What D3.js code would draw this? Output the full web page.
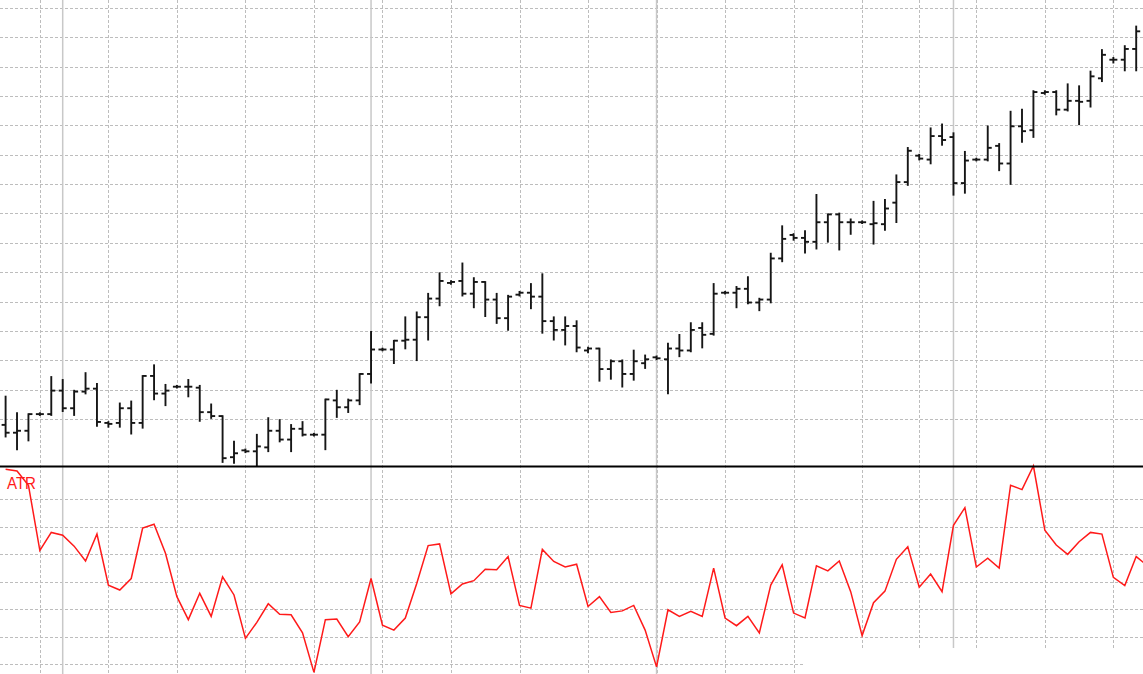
<!DOCTYPE html>
<html lang="en">
<head>
<meta charset="utf-8">
<style>
body { margin: 0; background: #fff; }
svg { display: block; }

.grid line {
  stroke: #bdbdbd;
  stroke-width: 1;
  stroke-dasharray: 3,2;
}

.sep line {
  stroke: #c8c8c8;
  stroke-width: 1.5;
}

.bars line {
  stroke: #161616;
  stroke-width: 1.9;
}

.atr {
  fill: none;
  stroke: #ff1a1a;
  stroke-width: 1.5;
}
</style>
</head>
<body>
<svg width="1143" height="674"></svg>

<script src="https://d3js.org/d3.v7.min.js"></script>
<script>

// OHLC, one value per bar (bar 0 = leftmost)
var opens = [
  1.2894, 1.2886, 1.2888, 1.2905, 1.2905, 1.2929, 1.2911, 1.2928, 1.2931, 1.2896,
  1.2896, 1.2911, 1.2896, 1.2944, 1.2926, 1.2933, 1.2933, 1.2932, 1.2907, 1.2903,
  1.2861, 1.2868, 1.2867, 1.2871, 1.2888, 1.2879, 1.2890, 1.2884, 1.2884, 1.2919,
  1.2912, 1.2919, 1.2946, 1.2971, 1.2971, 1.2980, 1.2981, 1.3004, 1.3023, 1.3039,
  1.3041, 1.3028, 1.3040, 1.3022, 1.3003, 1.3027, 1.3029, 1.3025, 1.3000, 1.2991,
  1.2995, 1.2970, 1.2972, 1.2951, 1.2959, 1.2946, 1.2957, 1.2963, 1.2961, 1.2972,
  1.2970, 1.2993, 1.2987, 1.3029, 1.3029, 1.3033, 1.3019, 1.3022, 1.3064, 1.3088,
  1.3085, 1.3081, 1.3101, 1.3109, 1.3101, 1.3101, 1.3099, 1.3099, 1.3121, 1.3142,
  1.3169, 1.3165, 1.3189, 1.3188, 1.3141, 1.3165, 1.3165, 1.3179, 1.3161, 1.3199,
  1.3195, 1.3233, 1.3234, 1.3216, 1.3225, 1.3225, 1.3248, 1.3267, 1.3267, 1.3278
];
var highs = [
  1.2923, 1.2906, 1.2905, 1.2906, 1.2943, 1.2940, 1.2929, 1.2947, 1.2936, 1.2897,
  1.2916, 1.2918, 1.2944, 1.2955, 1.2935, 1.2934, 1.2940, 1.2934, 1.2915, 1.2903,
  1.2877, 1.2869, 1.2884, 1.2901, 1.2899, 1.2894, 1.2897, 1.2885, 1.2920, 1.2929,
  1.2920, 1.2946, 1.2989, 1.2972, 1.2980, 1.3004, 1.3009, 1.3028, 1.3049, 1.3041,
  1.3059, 1.3044, 1.3040, 1.3028, 1.3026, 1.3030, 1.3038, 1.3048, 1.3004, 1.3004,
  1.3000, 1.2973, 1.2972, 1.2960, 1.2960, 1.2970, 1.2965, 1.2964, 1.2977, 1.2986,
  1.2998, 1.2998, 1.3038, 1.3030, 1.3035, 1.3045, 1.3023, 1.3069, 1.3097, 1.3089,
  1.3092, 1.3129, 1.3109, 1.3110, 1.3104, 1.3102, 1.3122, 1.3124, 1.3149, 1.3177,
  1.3170, 1.3197, 1.3201, 1.3192, 1.3173, 1.3166, 1.3199, 1.3181, 1.3214, 1.3216,
  1.3235, 1.3235, 1.3235, 1.3242, 1.3240, 1.3255, 1.3277, 1.3269, 1.3281, 1.3301
];
var lows = [
  1.2882, 1.2869, 1.2878, 1.2904, 1.2904, 1.2908, 1.2904, 1.2926, 1.2893, 1.2892,
  1.2892, 1.2885, 1.2891, 1.2920, 1.2914, 1.2932, 1.2923, 1.2898, 1.2901, 1.2856,
  1.2855, 1.2866, 1.2852, 1.2867, 1.2877, 1.2867, 1.2883, 1.2883, 1.2869, 1.2902,
  1.2907, 1.2915, 1.2937, 1.2970, 1.2957, 1.2972, 1.2960, 1.2981, 1.3016, 1.3038,
  1.3026, 1.3014, 1.3005, 1.2998, 1.2991, 1.3026, 1.3013, 1.2988, 1.2981, 1.2976,
  1.2969, 1.2968, 1.2939, 1.2941, 1.2933, 1.2940, 1.2952, 1.2961, 1.2926, 1.2964,
  1.2969, 1.2973, 1.2986, 1.3028, 1.3014, 1.3018, 1.3011, 1.3019, 1.3061, 1.3083,
  1.3070, 1.3074, 1.3081, 1.3073, 1.3089, 1.3100, 1.3079, 1.3093, 1.3101, 1.3139,
  1.3165, 1.3161, 1.3180, 1.3129, 1.3131, 1.3164, 1.3164, 1.3154, 1.3140, 1.3183,
  1.3188, 1.3232, 1.3211, 1.3215, 1.3201, 1.3219, 1.3245, 1.3264, 1.3256, 1.3256
];
var closes = [
  1.2886, 1.2888, 1.2905, 1.2905, 1.2929, 1.2911, 1.2928, 1.2931, 1.2897, 1.2895,
  1.2911, 1.2896, 1.2944, 1.2926, 1.2929, 1.2933, 1.2933, 1.2907, 1.2903, 1.2860,
  1.2865, 1.2867, 1.2872, 1.2888, 1.2879, 1.2890, 1.2884, 1.2884, 1.2920, 1.2912,
  1.2919, 1.2946, 1.2971, 1.2971, 1.2980, 1.2981, 1.3004, 1.3023, 1.3041, 1.3040,
  1.3028, 1.3040, 1.3022, 1.3003, 1.3025, 1.3029, 1.3025, 1.3000, 1.2991, 1.2995,
  1.2973, 1.2972, 1.2951, 1.2959, 1.2946, 1.2959, 1.2961, 1.2962, 1.2972, 1.2970,
  1.2991, 1.2986, 1.3028, 1.3029, 1.3033, 1.3019, 1.3022, 1.3064, 1.3084, 1.3085,
  1.3081, 1.3101, 1.3109, 1.3101, 1.3101, 1.3101, 1.3100, 1.3115, 1.3142, 1.3174,
  1.3166, 1.3189, 1.3185, 1.3141, 1.3164, 1.3165, 1.3177, 1.3161, 1.3199, 1.3194,
  1.3234, 1.3234, 1.3216, 1.3225, 1.3224, 1.3250, 1.3272, 1.3267, 1.3278, 1.3296
];

// ATR values; the last point belongs to the bar just past the right edge
var atr = [
  0.00555, 0.00552, 0.00526, 0.00407, 0.00440, 0.00435, 0.00415, 0.00388, 0.00437, 0.00344,
  0.00335, 0.00356, 0.00448, 0.00455, 0.00402, 0.00323, 0.00281, 0.00329, 0.00287, 0.00359,
  0.00326, 0.00247, 0.00276, 0.00310, 0.00291, 0.00290, 0.00257, 0.00185, 0.00281, 0.00282,
  0.00250, 0.00277, 0.00356, 0.00271, 0.00262, 0.00284, 0.00347, 0.00416, 0.00419, 0.00328,
  0.00346, 0.00352, 0.00373, 0.00372, 0.00396, 0.00307, 0.00302, 0.00409, 0.00387, 0.00377,
  0.00382, 0.00305, 0.00323, 0.00294, 0.00297, 0.00307, 0.00262, 0.00195, 0.00299, 0.00287,
  0.00296, 0.00287, 0.00375, 0.00284, 0.00270, 0.00287, 0.00257, 0.00344, 0.00381, 0.00293,
  0.00284, 0.00379, 0.00370, 0.00388, 0.00332, 0.00252, 0.00312, 0.00333, 0.00391, 0.00414,
  0.00340, 0.00364, 0.00332, 0.00453, 0.00485, 0.00377, 0.00393, 0.00375, 0.00526, 0.00518,
  0.00561, 0.00444, 0.00417, 0.00400, 0.00423, 0.00440, 0.00437, 0.00358, 0.00343, 0.00396,
  0.00379
];

// grid levels and period markers (bar indices)
var priceLevels = [1.2900, 1.2930, 1.2960, 1.2990, 1.3020, 1.3050, 1.3080, 1.3110,
                   1.3140, 1.3170, 1.3200, 1.3230, 1.3260, 1.3290, 1.3320];
var atrLevels = [0.0020, 0.0025, 0.0030, 0.0035, 0.0040, 0.0045, 0.0050];
var gridBars = [3, 9, 15, 21, 27, 33, 39, 45, 51, 57, 63, 69, 75, 80, 85, 91, 97];
var periodBars = [5, 32, 57, 83];

var svg = d3.select("svg"),
    width = +svg.attr("width"),
    height = +svg.attr("height");

var split = 466;   // border between price pane and ATR pane

var x = d3.scaleLinear().domain([0, 99]).range([5.6, 1136.2]);
var yPrice = d3.scaleLinear().domain([1.2852, 1.3328]).range([split, 0]);
var yAtr = d3.scaleLinear().domain([0.00182, 0.00561]).range([height, split]);

var bars = d3.range(closes.length).map(function(i) {
  return {i: i, o: opens[i], h: highs[i], l: lows[i], c: closes[i]};
});

// dotted grid
var grid = svg.append("g").attr("class", "grid");

grid.selectAll(".gp")
    .data(priceLevels)
  .enter().append("line")
    .attr("class", "gp")
    .attr("x1", 0).attr("x2", width)
    .attr("y1", function(d) { return Math.round(yPrice(d)) + 0.5; })
    .attr("y2", function(d) { return Math.round(yPrice(d)) + 0.5; });

grid.selectAll(".ga")
    .data(atrLevels)
  .enter().append("line")
    .attr("class", "ga")
    .attr("x1", 0).attr("x2", width)
    .attr("y1", function(d) { return Math.round(yAtr(d)) + 0.5; })
    .attr("y2", function(d) { return Math.round(yAtr(d)) + 0.5; });

grid.selectAll(".gv")
    .data(gridBars)
  .enter().append("line")
    .attr("class", "gv")
    .attr("y1", 0).attr("y2", height)
    .attr("x1", function(d) { return Math.round(x(d)) + 0.5; })
    .attr("x2", function(d) { return Math.round(x(d)) + 0.5; });

// solid period separators
svg.append("g").attr("class", "sep")
  .selectAll("line")
    .data(periodBars)
  .enter().append("line")
    .attr("y1", 0).attr("y2", height)
    .attr("x1", function(d) { return x(d); })
    .attr("x2", function(d) { return x(d); });

// blank patch bottom right
svg.append("rect")
    .attr("x", 805).attr("y", 648)
    .attr("width", width - 805).attr("height", height - 648)
    .attr("fill", "#fff");

// OHLC bars
var bar = svg.append("g")
    .attr("class", "bars")
  .selectAll("g")
    .data(bars)
  .enter().append("g")
    .attr("transform", function(d) { return "translate(" + x(d.i) + ",0)"; });

bar.append("line")
    .attr("x1", 0).attr("x2", 0)
    .attr("y1", function(d) { return yPrice(d.h) - 0.8; })
    .attr("y2", function(d) { return yPrice(d.l) + 0.8; });

bar.append("line")
    .attr("x1", -4).attr("x2", 0)
    .attr("y1", function(d) { return yPrice(d.o); })
    .attr("y2", function(d) { return yPrice(d.o); });

bar.append("line")
    .attr("x1", 0).attr("x2", 4)
    .attr("y1", function(d) { return yPrice(d.c); })
    .attr("y2", function(d) { return yPrice(d.c); });

// ATR line
var atrLine = d3.line()
    .x(function(d, i) { return x(i); })
    .y(function(d) { return yAtr(d); });

svg.append("path")
    .datum(atr)
    .attr("class", "atr")
    .attr("d", atrLine);

// pane border
svg.append("line")
    .attr("x1", 0).attr("x2", width)
    .attr("y1", split + 0.5).attr("y2", split + 0.5)
    .attr("stroke", "#000")
    .attr("stroke-width", 2);

svg.append("text")
    .attr("x", 7)
    .attr("y", 489)
    .attr("font-family", "'Liberation Sans', Arial, sans-serif")
    .attr("font-size", 17)
    .attr("textLength", 29)
    .attr("lengthAdjust", "spacingAndGlyphs")
    .attr("fill", "#ff1a1a")
    .text("ATR");

</script>
</body>
</html>
